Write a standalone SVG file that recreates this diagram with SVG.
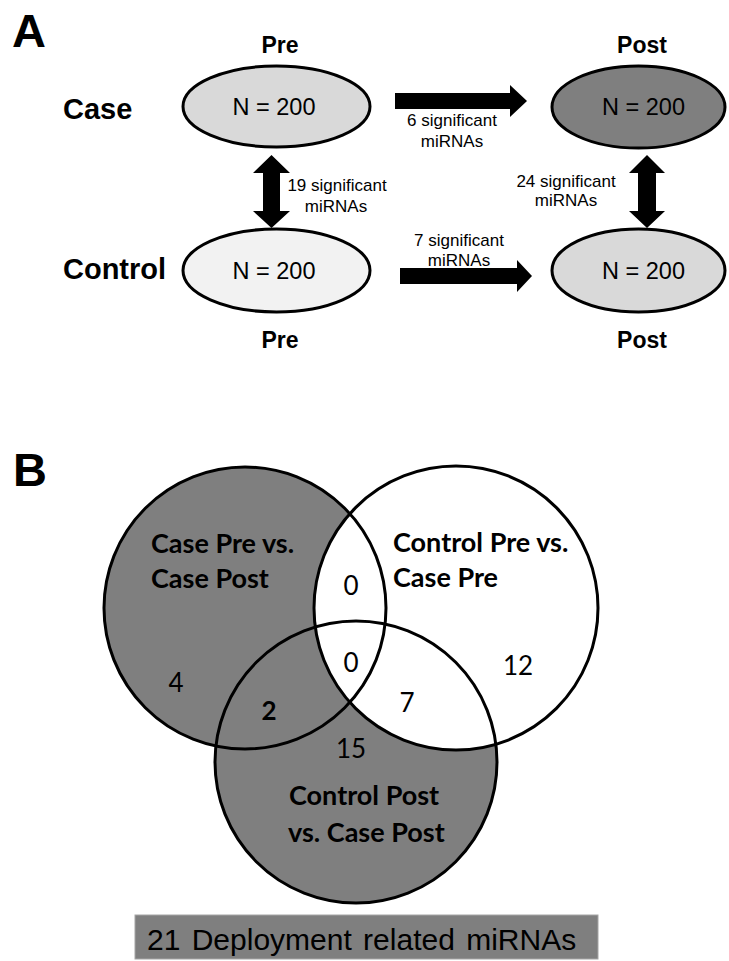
<svg xmlns="http://www.w3.org/2000/svg" width="729" height="961" viewBox="0 0 729 961">
<style>
.panel{font-family:"Liberation Sans",Arial,sans-serif;font-weight:bold;font-size:47px;fill:#000}
.hdr{font-family:"Liberation Sans",Arial,sans-serif;font-weight:bold;font-size:23px;text-anchor:middle;fill:#000}
.row{font-family:"Liberation Sans",Arial,sans-serif;font-weight:bold;font-size:29px;fill:#000}
.n{font-family:"Liberation Sans",Arial,sans-serif;font-size:23.5px;text-anchor:middle;fill:#000}
.lbl{font-family:"Liberation Sans",Arial,sans-serif;font-size:17px;text-anchor:middle;fill:#000}
.ell{stroke:#000;stroke-width:3}
.arrow{fill:#000;stroke:none}
.vfill{stroke:none}
.venn{fill:none;stroke:#000;stroke-width:3}
.vl{font-family:Lato,"Liberation Sans",sans-serif;font-weight:bold;font-size:27px;fill:#000}
.num{font-family:Lato,"Liberation Sans",sans-serif;font-size:26px;text-anchor:middle;fill:#000}
.box{font-family:"Liberation Sans",Arial,sans-serif;font-size:30px;fill:#000}
</style>

<!-- Panel A -->
<text class="panel" x="12" y="47">A</text>
<text class="hdr" x="280" y="53">Pre</text>
<text class="hdr" x="642" y="53">Post</text>
<text class="hdr" x="280" y="348">Pre</text>
<text class="hdr" x="642" y="348">Post</text>
<text class="row" x="63" y="119">Case</text>
<text class="row" x="63" y="279">Control</text>

<g id="case-pre">
<ellipse class="ell" cx="276.5" cy="106.5" rx="93.5" ry="40.5" fill="#d9d9d9"/>
<text class="n" x="274" y="115">N = 200</text>
</g>
<g id="case-post">
<ellipse class="ell" cx="638.5" cy="107" rx="86.5" ry="41" fill="#7f7f7f"/>
<text class="n" x="643.5" y="115">N = 200</text>
</g>
<g id="control-pre">
<ellipse class="ell" cx="276.5" cy="270.5" rx="93.5" ry="41.5" fill="#f2f2f2"/>
<text class="n" x="274" y="279">N = 200</text>
</g>
<g id="control-post">
<ellipse class="ell" cx="638.5" cy="270.5" rx="86.5" ry="41.5" fill="#d9d9d9"/>
<text class="n" x="643.5" y="279">N = 200</text>
</g>

<g id="connectors">
<polygon class="arrow" points="395,93 510,93 510,85 527,101 510,117 510,109 395,109"/>
<polygon class="arrow" points="400,268 517,268 517,260 532,276 517,292 517,284 400,284"/>
<polygon class="arrow" points="271.5,155 290,173 280,173 280,211 290,211 271.5,228 253,211 263,211 263,173 253,173"/>
<polygon class="arrow" points="647,155 665,173 656,173 656,211 665,211 647,228 629,211 638,211 638,173 629,173"/>
<text class="lbl" x="452" y="126">6 significant</text>
<text class="lbl" x="452" y="147">miRNAs</text>
<text class="lbl" x="459" y="246">7 significant</text>
<text class="lbl" x="459" y="266">miRNAs</text>
<text class="lbl" x="337" y="191">19 significant</text>
<text class="lbl" x="336" y="212">miRNAs</text>
<text class="lbl" x="566" y="187">24 significant</text>
<text class="lbl" x="566" y="206">miRNAs</text>
</g>

<!-- Panel B -->
<text class="panel" x="13" y="486">B</text>
<g id="venn">
<circle class="vfill" cx="245" cy="608" r="141" fill="#7f7f7f"/>
<circle class="vfill" cx="356" cy="762" r="141" fill="#7f7f7f"/>
<circle class="vfill" cx="456" cy="608" r="142" fill="#ffffff"/>
<circle class="venn" cx="245" cy="608" r="141"/>
<circle class="venn" cx="456" cy="608" r="142"/>
<circle class="venn" cx="356" cy="762" r="141"/>
</g>
<g id="set-case">
<text class="vl" x="151" y="553">Case Pre vs.</text>
<text class="vl" x="151" y="588">Case Post</text>
<text class="num" x="176" y="692">4</text>
</g>
<g id="set-control-pre">
<text class="vl" x="393" y="552">Control Pre vs.</text>
<text class="vl" x="393" y="587">Case Pre</text>
<text class="num" x="518" y="675">12</text>
</g>
<g id="set-control-post">
<text class="vl" x="289" y="805">Control Post</text>
<text class="vl" x="288" y="842">vs. Case Post</text>
<text class="num" x="351" y="758">15</text>
</g>
<g id="overlaps">
<text class="num" x="351" y="595">0</text>
<text class="num" x="351" y="672">0</text>
<text class="num" x="407" y="712">7</text>
<text class="num" x="269" y="720" font-weight="bold">2</text>
</g>
<g id="summary">
<rect x="135" y="915" width="463" height="44" fill="#7f7f7f" stroke="#a6a6a6" stroke-width="1"/>
<text class="box" x="147" y="950" word-spacing="3">21  Deployment related miRNAs</text>
</g>
</svg>
